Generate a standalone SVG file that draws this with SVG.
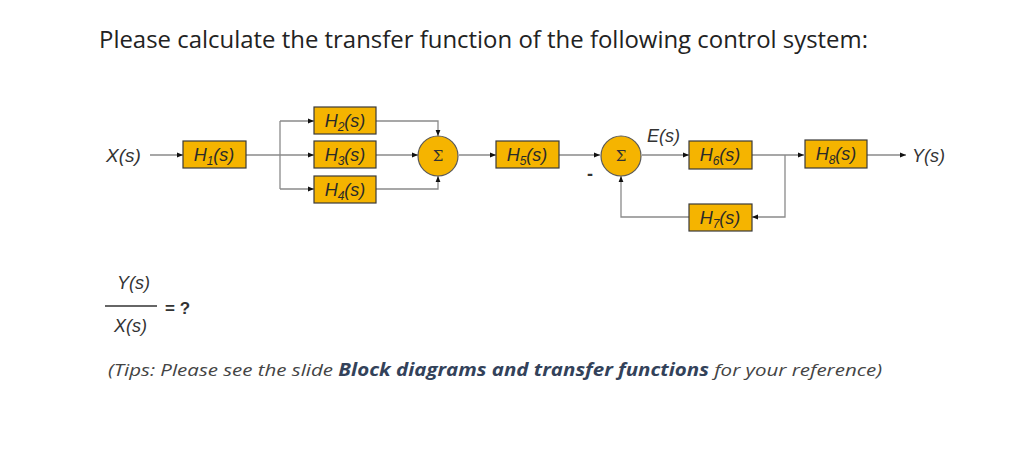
<svg xmlns="http://www.w3.org/2000/svg" width="1024" height="465" viewBox="0 0 1024 465">
<style>
.box{fill:#f5b400;stroke:#3a3a3a;stroke-width:1.2}
.sum{fill:#f5b400;stroke:#5a5a5a;stroke-width:1.2}
.bl{font-family:"Liberation Sans",Arial,sans-serif;font-style:italic;font-size:18px;fill:#2a2a2a;text-anchor:middle}
.lbl{font-family:"Liberation Sans",Arial,sans-serif;font-style:italic;font-size:18px;fill:#333}
.sig{font-family:"DejaVu Serif",serif;font-size:15px;fill:#333;text-anchor:middle}
.ln{fill:none;stroke:#8a8a8a;stroke-width:1.3}
.sub{font-size:12px}
.title{font-family:"Open Sans","Noto Sans",sans-serif;font-size:23px;fill:#222}
.tip{font-family:"Open Sans","Noto Sans",sans-serif;font-style:italic;font-size:17px;fill:#444}
</style>
<defs>
<marker id="ar" viewBox="0 0 10 10" refX="10" refY="5" markerWidth="6" markerHeight="6" orient="auto" markerUnits="userSpaceOnUse">
<path d="M0,1 L10,5 L0,9 z" fill="#111"/>
</marker>
</defs>
<rect width="1024" height="465" fill="#fff"/>
<text class="title" x="99" y="48" textLength="769" lengthAdjust="spacingAndGlyphs">Please calculate the transfer function of the following control system:</text>

<g id="connectors">
<path class="ln" d="M150,155 H183" marker-end="url(#ar)"/>
<path class="ln" d="M246,155 H280"/>
<path class="ln" d="M280,121 V189"/>
<path class="ln" d="M280,121 H314" marker-end="url(#ar)"/>
<path class="ln" d="M280,155 H314" marker-end="url(#ar)"/>
<path class="ln" d="M280,189 H314" marker-end="url(#ar)"/>
<path class="ln" d="M376,121 H438 V136" marker-end="url(#ar)"/>
<path class="ln" d="M376,155 H418" marker-end="url(#ar)"/>
<path class="ln" d="M376,189 H438 V176" marker-end="url(#ar)"/>
<path class="ln" d="M459,155 H496" marker-end="url(#ar)"/>
<path class="ln" d="M559,155 H600" marker-end="url(#ar)"/>
<path class="ln" d="M642,155 H689" marker-end="url(#ar)"/>
<path class="ln" d="M752,155 H804" marker-end="url(#ar)"/>
<path class="ln" d="M785,155 V217 H752" marker-end="url(#ar)"/>
<path class="ln" d="M689,217 H621 V176" marker-end="url(#ar)"/>
<path class="ln" d="M867,155 H906" marker-end="url(#ar)"/>
</g>

<g id="X"><text class="lbl" x="106" y="162" style="font-size:19px">X(s)</text></g>
<g id="H1"><rect class="box" x="183" y="141" width="63" height="27"/><text class="bl" x="214" y="161">H<tspan class="sub" dy="4">1</tspan><tspan dy="-4">(s)</tspan></text></g>
<g id="H2"><rect class="box" x="314" y="107" width="62" height="27"/><text class="bl" x="345" y="127">H<tspan class="sub" dy="4">2</tspan><tspan dy="-4">(s)</tspan></text></g>
<g id="H3"><rect class="box" x="314" y="141" width="62" height="27"/><text class="bl" x="345" y="161">H<tspan class="sub" dy="4">3</tspan><tspan dy="-4">(s)</tspan></text></g>
<g id="H4"><rect class="box" x="314" y="176" width="62" height="27"/><text class="bl" x="345" y="196">H<tspan class="sub" dy="4">4</tspan><tspan dy="-4">(s)</tspan></text></g>
<g id="S1"><circle class="sum" cx="438" cy="156" r="20"/><text class="sig" x="438" y="161">Σ</text></g>
<g id="H5"><rect class="box" x="496" y="141" width="63" height="27"/><text class="bl" x="527" y="161">H<tspan class="sub" dy="4">5</tspan><tspan dy="-4">(s)</tspan></text></g>
<g id="S2"><circle class="sum" cx="621" cy="156" r="20"/><text class="sig" x="621" y="161">Σ</text><text class="lbl" x="587" y="180" style="font-style:normal;font-weight:bold">-</text></g>
<g id="E"><text class="lbl" x="647" y="142">E(s)</text></g>
<g id="H6"><rect class="box" x="689" y="141" width="63" height="28"/><text class="bl" x="720" y="161">H<tspan class="sub" dy="4">6</tspan><tspan dy="-4">(s)</tspan></text></g>
<g id="H7"><rect class="box" x="689" y="204" width="63" height="27"/><text class="bl" x="720" y="224">H<tspan class="sub" dy="4">7</tspan><tspan dy="-4">(s)</tspan></text></g>
<g id="H8"><rect class="box" x="805" y="140" width="62" height="28"/><text class="bl" x="836" y="160">H<tspan class="sub" dy="4">8</tspan><tspan dy="-4">(s)</tspan></text></g>
<g id="Y"><text class="lbl" x="912" y="162">Y(s)</text></g>

<g id="fraction">
<text class="lbl" x="117" y="289">Y(s)</text>
<line x1="105" y1="306" x2="157" y2="306" stroke="#333" stroke-width="1.3"/>
<text class="lbl" x="114" y="332">X(s)</text>
<text x="165" y="314" style="font-family:'Liberation Sans',Arial,sans-serif;font-weight:bold;font-size:17px;fill:#333">= ?</text>
</g>
<text class="tip" x="108" y="376" textLength="774" lengthAdjust="spacingAndGlyphs">(Tips: Please see the slide <tspan style="font-weight:bold;fill:#33425a">Block diagrams and transfer functions</tspan> for your reference)</text>
</svg>
